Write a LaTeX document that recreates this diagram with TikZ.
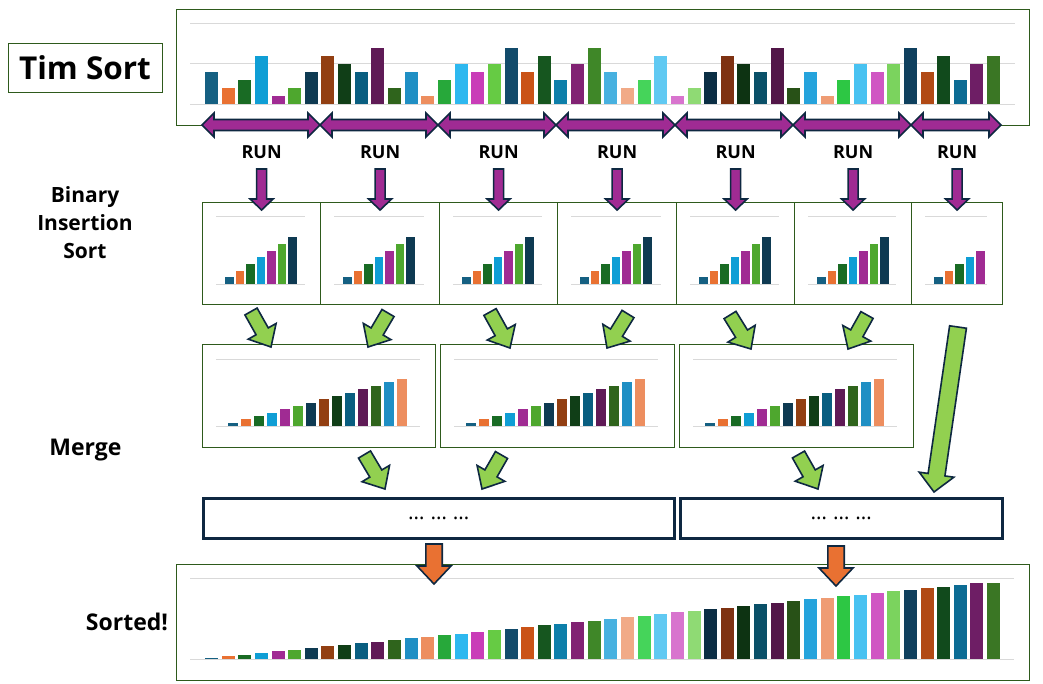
\documentclass[tikz,border=0pt]{standalone}
\usepackage{fontspec}
\setmainfont{Open Sans}
\usetikzlibrary{positioning, calc}
\definecolor{framegreen}{HTML}{2E5A1C}
\definecolor{arrownavy}{HTML}{0E2841}
\definecolor{runpurple}{HTML}{A02B93}
\definecolor{mergegreen}{HTML}{92D050}
\definecolor{finalorange}{HTML}{E97132}
\definecolor{gridgray}{HTML}{D9D9D9}
\definecolor{bar1}{HTML}{156082}
\definecolor{bar2}{HTML}{E97132}
\definecolor{bar3}{HTML}{196B24}
\definecolor{bar4}{HTML}{0F9ED5}
\definecolor{bar5}{HTML}{A02B93}
\definecolor{bar6}{HTML}{4EA72E}
\definecolor{bar7}{HTML}{0E3A52}
\definecolor{bar8}{HTML}{923F12}
\definecolor{bar9}{HTML}{103E17}
\definecolor{bar10}{HTML}{095E80}
\definecolor{bar11}{HTML}{5F1A56}
\definecolor{bar12}{HTML}{2F641C}
\definecolor{bar13}{HTML}{1F8FC4}
\definecolor{bar14}{HTML}{ED8E5F}
\definecolor{bar15}{HTML}{27A83A}
\definecolor{bar16}{HTML}{2DB8EF}
\definecolor{bar17}{HTML}{C93DB8}
\definecolor{bar18}{HTML}{66CB44}
\definecolor{bar19}{HTML}{124B6B}
\definecolor{bar20}{HTML}{CA5317}
\definecolor{bar21}{HTML}{16561F}
\definecolor{bar22}{HTML}{0D7FAA}
\definecolor{bar23}{HTML}{812273}
\definecolor{bar24}{HTML}{3F8728}
\definecolor{bar25}{HTML}{47B1E0}
\definecolor{bar26}{HTML}{F1AA87}
\definecolor{bar27}{HTML}{45D45A}
\definecolor{bar28}{HTML}{60C9F2}
\definecolor{bar29}{HTML}{D874CE}
\definecolor{bar30}{HTML}{8FDA74}
\definecolor{bar31}{HTML}{0B2E44}
\definecolor{bar32}{HTML}{7E3212}
\definecolor{bar33}{HTML}{0D3312}
\definecolor{bar34}{HTML}{0A5068}
\definecolor{bar35}{HTML}{521648}
\definecolor{bar36}{HTML}{285117}
\definecolor{bar37}{HTML}{25A3DC}
\definecolor{bar38}{HTML}{EF9C74}
\definecolor{bar39}{HTML}{2DC744}
\definecolor{bar40}{HTML}{48C2F1}
\definecolor{bar41}{HTML}{D056C3}
\definecolor{bar42}{HTML}{7BD35E}
\definecolor{bar43}{HTML}{0F405E}
\definecolor{bar44}{HTML}{B14A15}
\definecolor{bar45}{HTML}{114A1C}
\definecolor{bar46}{HTML}{0C6C94}
\definecolor{bar47}{HTML}{6E1E65}
\definecolor{bar48}{HTML}{3A7624}
\tikzset{
  chartbox/.style={rectangle, draw=framegreen, line width=1.2pt, fill=white,
    inner sep=0pt, anchor=north west},
  titlebox/.style={rectangle, draw=framegreen, line width=1pt, minimum width=154pt,
    minimum height=49pt, inner sep=0pt, font=\bfseries\fontsize{31.5}{37}\selectfont},
  steplbl/.style={font=\bfseries\fontsize{21}{28}\selectfont, align=center, inner sep=0pt},
  steplbl/big/.style={steplbl, font=\bfseries\fontsize{23}{28}\selectfont},
  runlbl/.style={font=\bfseries\fontsize{18}{22}\selectfont, inner sep=0pt},
  dotbox/.style={rectangle, draw=arrownavy, line width=2.5pt, fill=white, inner sep=0pt,
    anchor=north west, minimum height=40pt, font=\fontsize{21}{24}\selectfont},
  gridln/.style={draw=gridgray, line width=1pt},
  blk/.style={draw=arrownavy, line width=1.6pt, line join=miter},
  blk/run/.style={blk, fill=runpurple},
  blk/merge/.style={blk, fill=mergegreen},
  blk/final/.style={blk, fill=finalorange},
}
% tail, tip: coordinate names; #4 shaft half width, #5 head half width, #6 head length
\newcommand{\blockarrow}[6]{%
  \coordinate (neck) at ($(#3)!#6!(#2)$);
  \draw[#1] ($(#2)!#4!90:(#3)$) -- ($(neck)!#4!90:(#3)$) -- ($(neck)!#5!90:(#3)$) -- (#3)
    -- ($(neck)!#5!-90:(#3)$) -- ($(neck)!#4!-90:(#3)$) -- ($(#2)!#4!-90:(#3)$) -- cycle;
}

\begin{document}
\begin{tikzpicture}[x=1pt, y=-1pt]
  \useasboundingbox (0,0) rectangle (1043,683);

  % step labels
  \node[titlebox] (title) at (85,67.5) {Tim Sort};
  \node[steplbl] (lblins) at (85,223) {Binary\\Insertion\\Sort};
  \node[steplbl/big] (lblmrg) at (85.5,450) {Merge};
  \node[steplbl/big] (lblsrt) at (127,622) {Sorted!};

  % unsorted input
  \node[chartbox, minimum width=853, minimum height=116] (unsorted) at (176,9) {};
  \foreach \g in {14,54.5,95}
    \draw[gridln] ($(unsorted.north west)+(14,\g)$) -- ++(825,0);
  \foreach \v [count=\i] in {4,2,3,6,1,2,4,6,5,4,7,2,4,1,3,5,4,5,7,4,6,3,5,7,
                             4,2,3,6,1,2,4,6,5,4,7,2,4,1,3,5,4,5,7,4,6,3,5,6}
    \fill[fill=bar\i] ($(unsorted.north west)+(12.36+16.64*\i,95)$) rectangle ++(13,-8*\v);

  % runs after binary insertion sort
  \foreach \x/\w/\n [count=\i] in {202/118/7,320/119/7,439/118/7,557/119/7,
                                   676/118/7,794/117/7,911/91/5} {
    \node[chartbox, minimum width=\w, minimum height=102] (ins\i) at (\x,202) {};
    \draw[gridln] ($(ins\i.north west)+(14,14)$) -- ++(\w-29,0);
    \draw[gridln] ($(ins\i.north west)+(14,82)$) -- ++(\w-29,0);
    \foreach \j in {1,...,\n}
      \fill[fill=bar\j] ($(ins\i.north west)+(12.5+10.5*\j,82)$) rectangle ++(8.5,-6.7*\j);
    \node[runlbl] (run\i) at ($(ins\i.north)+(0,-50)$) {RUN};
  }

  % merged runs
  \foreach \x/\w [count=\i] in {202/233,440/234,679/234} {
    \node[chartbox, minimum width=\w, minimum height=103] (mrg\i) at (\x,344) {};
    \draw[gridln] ($(mrg\i.north west)+(14,15)$) -- ++(204,0);
    \draw[gridln] ($(mrg\i.north west)+(14,82)$) -- ++(204,0);
    \foreach \j in {1,...,14}
      \fill[fill=bar\j] ($(mrg\i.north west)+(13+13*\j,82)$) rectangle ++(10,-3.35*\j);
  }

  % further merges
  \node[dotbox, minimum width=471] (dot1) at (202,497) {…\hspace{6pt}…\hspace{6pt}…};
  \node[dotbox, minimum width=322] (dot2) at (679,497) {…\hspace{6pt}…\hspace{6pt}…};

  % sorted output
  \node[chartbox, minimum width=853, minimum height=116] (sorted) at (176,564) {};
  \foreach \g in {14,95}
    \draw[gridln] ($(sorted.north west)+(14,\g)$) -- ++(824,0);
  \foreach \h [count=\i] in {1,3,4,6,8,9,11,13,14,16,17,19,21,22,24,25,27,29,30,32,34,35,37,38,
                             40,42,43,45,47,48,50,51,53,55,56,58,60,61,63,64,66,68,69,71,72,74,76,76}
    \fill[fill=bar\i] ($(sorted.north west)+(12.36+16.64*\i,95)$) rectangle ++(13,-\h);

  % run spans
  \foreach \a/\b in {202/320,320/438,438/556,556/675,675/793,793/911,911/1001}
    \draw[blk/run] (\a,125) -- ++(12,-12) -- ++(0,6.5) -- (\b-12,119.5) -- ++(0,-6.5)
      -- (\b,125) -- ++(-12,12) -- ++(0,-6.5) -- (\a+12,130.5) -- ++(0,6.5) -- cycle;

  % run -> insertion sort
  \foreach \i in {1,...,7} {
    \coordinate (rt) at ($(ins\i.north)+(0,-33)$);
    \coordinate (rh) at ($(ins\i.north)+(0,8)$);
    \blockarrow{blk/run}{rt}{rh}{5pt}{11.5pt}{11pt}
  }

  % merge arrows
  \foreach \tx/\ty/\hx/\hy in {251/311.5/271/347,388/313/368/347,490/312/510/348,
                               628/314/607/348,730/315/751/349,867/315/848/349,
                               364.5/454.5/385/489,501.5/455/482/489,798.5/454.5/818/489} {
    \coordinate (gt) at (\tx,\ty);
    \coordinate (gh) at (\hx,\hy);
    \blockarrow{blk/merge}{gt}{gh}{7pt}{16pt}{18pt}
  }
  \coordinate (lt) at (958,327);
  \coordinate (lh) at (934,492);
  \blockarrow{blk/merge}{lt}{lh}{8.5pt}{17.5pt}{17.5pt}

  % final merge
  \coordinate (ot1) at (434,544);
  \coordinate (oh1) at (434,584);
  \blockarrow{blk/final}{ot1}{oh1}{8.2pt}{17pt}{18pt}
  \coordinate (ot2) at (836,546);
  \coordinate (oh2) at (836,586);
  \blockarrow{blk/final}{ot2}{oh2}{8.2pt}{17pt}{18pt}
\end{tikzpicture}
\end{document}
